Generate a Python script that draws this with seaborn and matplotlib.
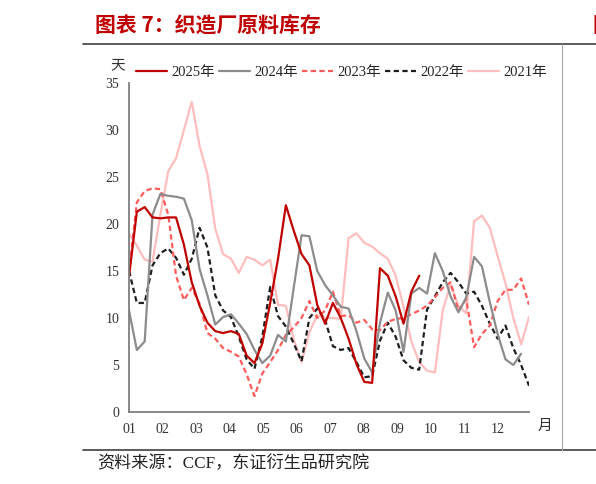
import numpy as np
import pandas as pd
import seaborn as sns
import matplotlib.pyplot as plt
from matplotlib.lines import Line2D

# 织造厂原料库存（天），按周
years = ['2025年', '2024年', '2023年', '2022年', '2021年']
months = ['01', '02', '03', '04', '05', '06', '07', '08', '09', '10', '11', '12']

inv_2025 = [14.4, 21.3, 21.8, 20.7, 20.6, 20.7, 20.7, 17.8, 13.8, 11.3,
            9.5, 8.6, 8.4, 8.6, 8.3, 6.0, 5.2, 7.3, 11.6, 16.3,
            22.0, 19.3, 16.8, 15.6, 11.4, 9.4, 11.6, 10.0, 7.8, 5.1,
            3.2, 3.1, 15.3, 14.5, 12.3, 9.4, 12.8, 14.5]
inv_2024 = [10.8, 6.6, 7.5, 21.0, 23.2, 23.0, 22.9, 22.7, 20.4, 15.2,
            12.4, 9.3, 10.1, 10.4, 9.4, 8.3, 6.6, 5.2, 6.0, 8.2,
            7.5, 13.2, 18.8, 18.7, 15.0, 13.5, 12.4, 11.2, 11.0, 8.6,
            5.7, 4.2, 9.5, 12.7, 10.8, 6.4, 12.6, 13.2, 12.6, 16.9,
            15.0, 12.3, 10.6, 12.2, 16.5, 15.5, 11.7, 8.3, 5.6, 5.0, 6.2]
inv_2023 = [14.8, 22.3, 23.5, 23.8, 23.7, 21.0, 14.5, 11.9, 13.2, 11.5,
            8.4, 7.8, 6.8, 6.4, 5.9, 4.0, 1.7, 4.1, 5.3, 6.6,
            8.2, 9.0, 10.0, 11.8, 10.0, 10.8, 12.8, 10.2, 10.3, 9.5,
            9.8, 8.8, 8.7, 9.6, 9.9, 10.0, 10.4, 10.8, 11.3, 12.2,
            13.2, 13.8, 10.8, 12.0, 6.9, 8.3, 9.2, 11.8, 13.0, 13.0, 14.2, 11.4]
inv_2022 = [15.0, 11.6, 11.6, 15.6, 16.9, 17.4, 16.4, 14.6, 16.3, 19.6,
            17.5, 12.4, 10.8, 10.1, 8.0, 5.6, 4.6, 8.0, 13.3, 10.2,
            9.1, 7.3, 5.4, 10.0, 11.0, 9.8, 7.0, 6.6, 6.8, 5.3,
            3.7, 3.8, 7.6, 9.5, 8.0, 5.5, 4.7, 4.5, 10.9, 12.3,
            13.8, 14.8, 13.8, 12.6, 12.8, 11.3, 9.4, 7.8, 9.2, 6.8, 5.0, 2.8]
inv_2021 = [19.0, 17.7, 16.2, 16.0, 21.0, 25.6, 27.0, 30.0, 33.0, 28.3,
            25.3, 19.5, 16.8, 16.3, 14.8, 16.5, 16.2, 15.6, 16.2, 11.4,
            11.3, 7.7, 5.3, 8.5, 10.3, 10.0, 10.0, 9.9, 18.5, 19.0,
            18.0, 17.6, 16.9, 16.3, 14.5, 11.2, 7.5, 5.3, 4.4, 4.2,
            10.8, 13.6, 11.3, 10.5, 20.3, 20.9, 19.6, 16.6, 13.7, 10.0, 7.2, 10.1]

series = [inv_2025, inv_2024, inv_2023, inv_2022, inv_2021]
frames = []
for name, vals in zip(years, series):
    frames.append(pd.DataFrame({'week': np.arange(len(vals)), 'days': vals, 'year': name}))
df = pd.concat(frames, ignore_index=True)

pal = {'2025年': '#C00000', '2024年': '#8C8C8C', '2023年': '#FF5B5B',
       '2022年': '#1E1E1E', '2021年': '#FFBDBD'}
dsh = {'2025年': '', '2024年': '', '2023年': (2.4, 1.5),
       '2022年': (2.4, 1.5), '2021年': ''}

sns.set_style('white')
plt.rcParams['font.family'] = ['Liberation Serif', 'Noto Sans CJK SC']
plt.rcParams['axes.unicode_minus'] = False

fig = plt.figure(figsize=(5.96, 4.84), dpi=100)
ax = fig.add_axes([129 / 596, 1 - 412 / 484, 400 / 596, 329 / 484])

sns.lineplot(data=df, x='week', y='days', hue='year', style='year',
             hue_order=years[::-1], style_order=years[::-1],
             palette=pal, dashes=dsh, linewidth=1.6, legend=False, ax=ax)

ax.set_xlim(0, 51)
ax.set_ylim(0, 35)
ax.set_xticks(np.arange(12) * 51 / 11.94)
ax.set_xticklabels(months)
ax.set_yticks(np.arange(0, 36, 5))
ax.set_xlabel('')
ax.set_ylabel('')
ax.tick_params(axis='both', direction='in', length=4, width=1, color='#7F7F7F',
               labelsize=10, labelcolor='#333333')
ax.tick_params(axis='x', pad=8)
ax.tick_params(axis='y', pad=7)
for side in ['top', 'right']:
    ax.spines[side].set_visible(False)
for side in ['left', 'bottom']:
    ax.spines[side].set_color('#7F7F7F')
    ax.spines[side].set_linewidth(1.3)

handles = [Line2D([], [], color=pal[y], linewidth=1.6,
                  linestyle=(0, dsh[y]) if dsh[y] else '-') for y in years]
fig.legend(handles, years, loc='center left', bbox_to_anchor=(136 / 596, 1 - 72 / 484),
           ncol=5, frameon=False, fontsize=10.5, handlelength=2.1, handletextpad=0.3,
           columnspacing=0.3, borderpad=0, borderaxespad=0)

fig.text(118 / 596, 1 - 66 / 484, '天', fontsize=10.5, ha='center', va='center', color='#333333')
fig.text(545 / 596, 1 - 426 / 484, '月', fontsize=10.5, ha='center', va='center', color='#333333')

# 标题与分隔线
fig.text(95 / 596, 1 - 25 / 484, '图表 7：织造厂原料库存', fontsize=15, fontweight='bold',
         color='#C00000', ha='left', va='center', family=['Noto Sans CJK SC'])
fig.text(593 / 596, 1 - 25 / 484, '图', fontsize=15, fontweight='bold',
         color='#C00000', ha='left', va='center', family=['Noto Sans CJK SC'])
fig.add_artist(Line2D([83 / 596, 1], [1 - 44 / 484] * 2, color='#404040', linewidth=1.2))
fig.add_artist(Line2D([83 / 596, 1], [1 - 450 / 484] * 2, color='#404040', linewidth=1.2))
fig.add_artist(Line2D([562 / 596] * 2, [1 - 450 / 484, 1 - 44 / 484], color='#A6A6A6', linewidth=0.8))

fig.text(97 / 596, 1 - 464 / 484, '资料来源：CCF，东证衍生品研究院', fontsize=12.3,
         ha='left', va='center', color='#222222')

fig.savefig('out.png', dpi=100)
